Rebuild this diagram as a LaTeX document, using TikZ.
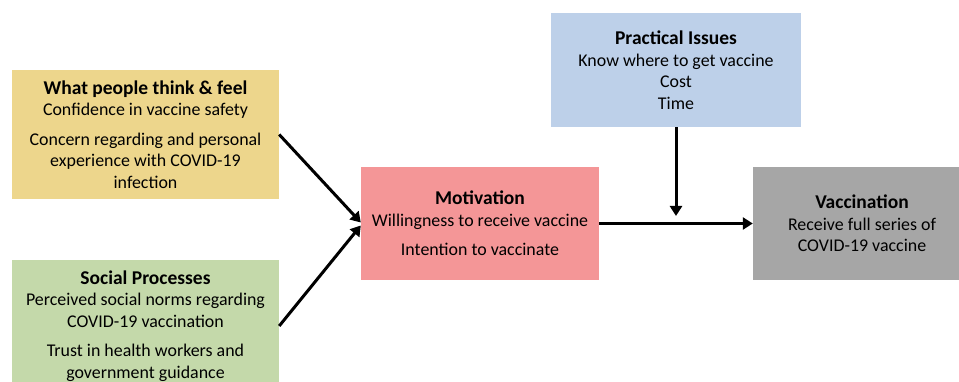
\documentclass[tikz,border=0pt]{standalone}
\usepackage{fontspec}
\setmainfont{Carlito}
\usetikzlibrary{arrows.meta}
\definecolor{thinkfeel}{RGB}{237,214,140}
\definecolor{social}{RGB}{196,217,170}
\definecolor{motive}{RGB}{244,150,151}
\definecolor{practical}{RGB}{189,208,233}
\definecolor{vaccinated}{RGB}{166,166,166}
\newcommand{\boxtitle}[1]{{\fontsize{19.5}{21.5}\selectfont\bfseries #1}}

\begin{document}
\begin{tikzpicture}[x=1pt,y=-1pt,
  factor/.style={rectangle,inner sep=0pt,align=center,
    font=\fontsize{17.9}{21.5}\selectfont},
  link/.style={line width=3pt,-{Triangle[length=10pt,width=12pt]}}]
\useasboundingbox (0,0) rectangle (959,382);

\node[factor,fill=thinkfeel,minimum width=267pt,minimum height=129pt] (Think) at (145.5,134.5)
  {\boxtitle{What people think \& feel}\\ Confidence in vaccine safety\\[8pt]
   Concern regarding and personal\\ experience with COVID-19\\ infection};
\node[factor,fill=social,minimum width=267pt,minimum height=132pt] (Social) at (145.5,326)
  {\boxtitle{Social Processes}\\ Perceived social norms regarding\\ COVID-19 vaccination\\[8pt]
   Trust in health workers and\\ government guidance};
\node[factor,fill=motive,minimum width=238pt,minimum height=113pt] (Motiv) at (480,223.5)
  {\boxtitle{Motivation}\\ Willingness to receive vaccine\\[8pt] Intention to vaccinate};
\node[factor,fill=practical,minimum width=250pt,minimum height=114pt] (Practical) at (676,70)
  {\boxtitle{Practical Issues}\\ Know where to get vaccine\\ Cost\\ Time};
\node[factor,fill=vaccinated,minimum width=218pt,minimum height=113pt] (Vacc) at (862,223.5)
  {\boxtitle{Vaccination}\\ Receive full series of\\ COVID-19 vaccine};

\coordinate (meet) at (676,216);

\path[link] (Think.east) edge ([yshift=1pt]Motiv.west);
\path[link] (Social.east) edge ([yshift=-2pt]Motiv.west);
\path[link] (Motiv.east) edge (Vacc.west);
\path[link] (Practical.south) edge (meet);
\end{tikzpicture}
\end{document}
